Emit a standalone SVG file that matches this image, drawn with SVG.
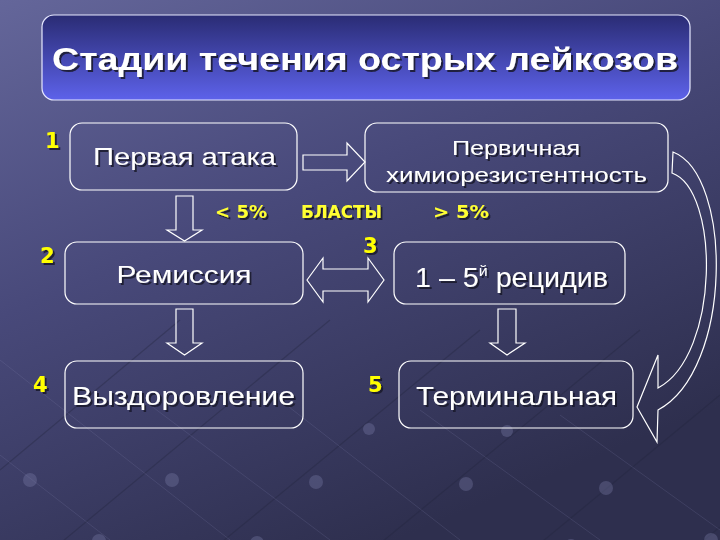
<svg xmlns="http://www.w3.org/2000/svg" width="720" height="540" viewBox="0 0 720 540">
  <defs>
    <linearGradient id="bg" x1="0" y1="0" x2="0.55" y2="1">
      <stop offset="0" stop-color="#64669a"/>
      <stop offset="0.45" stop-color="#48497a"/>
      <stop offset="1" stop-color="#2e2f4e"/>
    </linearGradient>
    <linearGradient id="titleFill" x1="0" y1="0" x2="0" y2="1">
      <stop offset="0" stop-color="#2a2c74"/>
      <stop offset="1" stop-color="#5d62ea"/>
    </linearGradient>
    <filter id="shadow" x="-10%" y="-30%" width="120%" height="160%">
      <feDropShadow dx="2" dy="2" stdDeviation="0.6" flood-color="#14152a" flood-opacity="0.85"/>
    </filter>
    <style>
      .box { fill: none; stroke: #ffffff; stroke-width: 1.2; }
      .arrow { fill: none; stroke: #ffffff; stroke-width: 1.2; stroke-linejoin: miter; }
      .txt { font-family: "Liberation Sans", Arial, sans-serif; fill: #ffffff; text-anchor: middle; filter: url(#shadow); }
      .num { font-family: "DejaVu Sans", Verdana, sans-serif; font-weight: bold; font-size: 21px; fill: #ffff00; filter: url(#shadow); }
      .lbl { font-family: "DejaVu Sans", Verdana, sans-serif; font-weight: bold; font-size: 17px; fill: #ffff33; filter: url(#shadow); }
      .deco { stroke: #23243c; stroke-width: 1.2; opacity: 0.35; fill: none; }
      .deco2 { stroke: #8a8cb8; stroke-width: 1; opacity: 0.18; fill: none; }
      .dot { fill: #7c7ea8; opacity: 0.35; }
    </style>
  </defs>

  <rect x="0" y="0" width="720" height="540" fill="url(#bg)"/>

  <g id="background-pattern">
    <path class="deco" d="M40,560 L330,320 M200,560 L480,330 M360,560 L640,330 M520,560 L720,395 M680,560 L720,527 M0,470 L180,320"/>
    <path class="deco2" d="M0,455 L110,540 M0,360 L230,540 M130,390 L330,540 M280,400 L460,540 M420,410 L600,540 M560,415 L720,530"/>
    <circle class="dot" cx="30" cy="480" r="7"/>
    <circle class="dot" cx="172" cy="480" r="7"/>
    <circle class="dot" cx="316" cy="482" r="7"/>
    <circle class="dot" cx="466" cy="484" r="7"/>
    <circle class="dot" cx="606" cy="488" r="7"/>
    <circle class="dot" cx="99" cy="541" r="7"/>
    <circle class="dot" cx="257" cy="543" r="7"/>
    <circle class="dot" cx="415" cy="550" r="7"/>
    <circle class="dot" cx="571" cy="546" r="7"/>
    <circle class="dot" cx="711" cy="540" r="7"/>
    <circle class="dot" cx="369" cy="429" r="6"/>
    <circle class="dot" cx="507" cy="431" r="6"/>
  </g>

  <g id="title">
    <rect x="42" y="15" width="648" height="85" rx="12" ry="12" fill="url(#titleFill)" stroke="#e6e8ff" stroke-width="1.2"/>
    <text class="txt" x="365" y="70" font-family="'DejaVu Sans', Verdana, sans-serif" font-size="31" font-weight="bold" textLength="626" lengthAdjust="spacingAndGlyphs">Стадии течения острых лейкозов</text>
  </g>

  <g id="connectors">
    <path class="arrow" d="M176,196 L193,196 L193,230 L202,230 L184.5,241 L167,230 L176,230 Z"/>
    <path class="arrow" d="M176,309 L193,309 L193,343 L202,343 L184.5,355 L167,343 L176,343 Z"/>
    <path class="arrow" d="M498,309 L516,309 L516,343 L525,343 L507,355 L490,343 L498,343 Z"/>
    <path class="arrow" d="M303,155 L347,155 L347,143 L365,162 L347,181 L347,170 L303,170 Z"/>
    <path class="arrow" d="M307,280 L323,258 L323,269 L368,269 L368,258 L384,280 L368,302 L368,291 L323,291 L323,302 Z"/>
    <path class="arrow" d="M673,152 C733,175 733,370 658,410 L657,442 L637,407 L658,355 L658,388 C720,355 720,190 672,173 Z"/>
  </g>

  <g id="node-1">
    <rect class="box" x="70" y="123" width="227" height="67" rx="12" ry="12"/>
    <text class="num" x="45" y="148">1</text>
    <text class="txt" x="184.5" y="165" font-size="24" textLength="183" lengthAdjust="spacingAndGlyphs">Первая атака</text>
  </g>

  <g id="node-primary">
    <rect class="box" x="365" y="123" width="303" height="69" rx="12" ry="12"/>
    <text class="txt" x="516" y="155" font-size="20" textLength="128" lengthAdjust="spacingAndGlyphs">Первичная</text>
    <text class="txt" x="516.5" y="182" font-size="20" textLength="261" lengthAdjust="spacingAndGlyphs">химиорезистентность</text>
  </g>

  <g id="labels">
    <text class="lbl" x="215" y="218" textLength="52" lengthAdjust="spacingAndGlyphs">&lt; 5%</text>
    <text class="lbl" x="301" y="218" font-family="'Liberation Sans', Arial, sans-serif" textLength="81" lengthAdjust="spacingAndGlyphs">БЛАСТЫ</text>
    <text class="lbl" x="433" y="218" textLength="56" lengthAdjust="spacingAndGlyphs">&gt; 5%</text>
  </g>

  <g id="node-2">
    <rect class="box" x="65" y="242" width="238" height="62" rx="12" ry="12"/>
    <text class="num" x="40" y="263">2</text>
    <text class="txt" x="184" y="283" font-size="24" textLength="135" lengthAdjust="spacingAndGlyphs">Ремиссия</text>
  </g>

  <g id="node-3">
    <rect class="box" x="394" y="242" width="231" height="62" rx="12" ry="12"/>
    <text class="num" x="363" y="253">3</text>
    <text class="txt" x="511.5" y="287" font-size="27" textLength="193" lengthAdjust="spacingAndGlyphs">1 – 5<tspan font-size="15" dy="-11">й</tspan><tspan dy="11"> рецидив</tspan></text>
  </g>

  <g id="node-4">
    <rect class="box" x="65" y="361" width="238" height="67" rx="12" ry="12"/>
    <text class="num" x="33" y="392">4</text>
    <text class="txt" x="183.5" y="405" font-size="25" textLength="223" lengthAdjust="spacingAndGlyphs">Выздоровление</text>
  </g>

  <g id="node-5">
    <rect class="box" x="399" y="361" width="234" height="67" rx="12" ry="12"/>
    <text class="num" x="368" y="392">5</text>
    <text class="txt" x="516.5" y="405" font-size="25" textLength="201" lengthAdjust="spacingAndGlyphs">Терминальная</text>
  </g>
</svg>
